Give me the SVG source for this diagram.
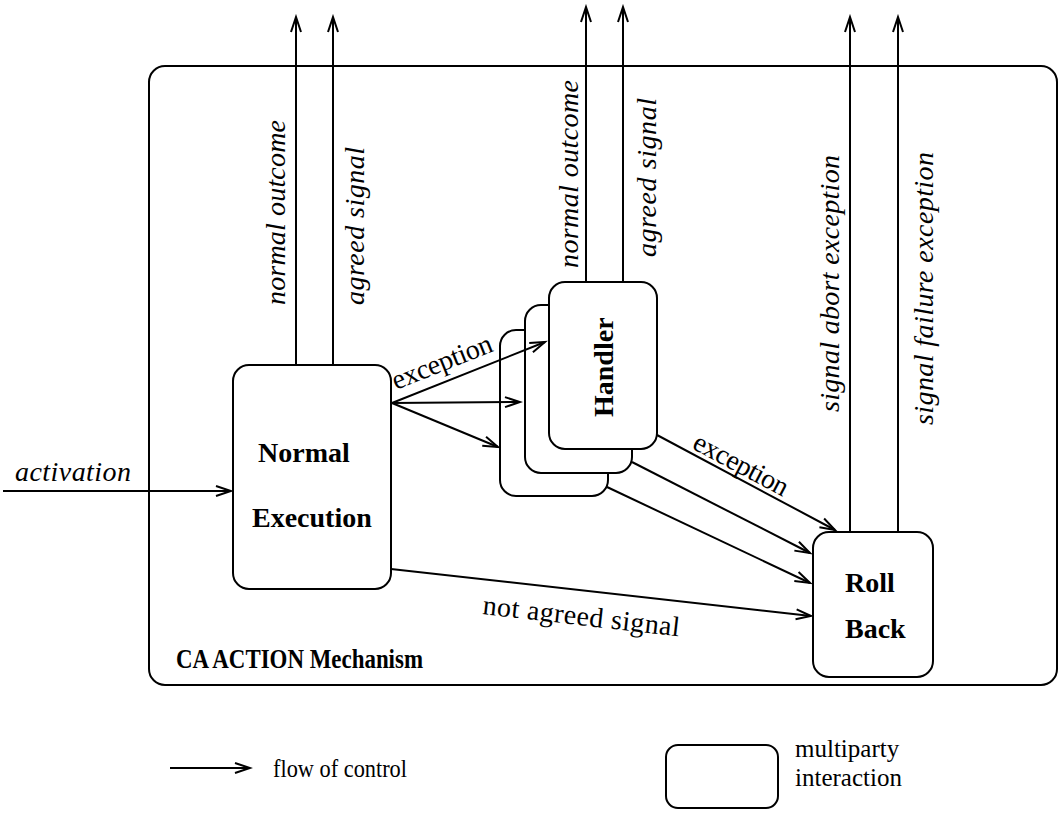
<svg xmlns="http://www.w3.org/2000/svg" width="1063" height="813" viewBox="0 0 1063 813">
<style>
.box{fill:#fff;stroke:#000;stroke-width:2}
.ln{fill:none;stroke:#000;stroke-width:2}
.it{font-family:"Liberation Serif",serif;font-style:italic;font-size:28px;fill:#000}
.rm{font-family:"Liberation Serif",serif;font-size:28px;fill:#000}
.bd{font-family:"Liberation Serif",serif;font-weight:bold;font-size:28px;fill:#000}
.lg{font-family:"Liberation Serif",serif;font-size:25px;fill:#000}
</style>
<defs>
<marker id="ah" markerUnits="userSpaceOnUse" markerWidth="20" markerHeight="14" viewBox="-16 -7 18 14" refX="0" refY="0" orient="auto">
<path d="M-15,-5 L0,0 L-15,5" fill="none" stroke="#000" stroke-width="2"/>
</marker>
</defs>
<rect width="1063" height="813" fill="#fff"/>
<g id="frame">
<rect x="149" y="66" width="908" height="619" rx="16" class="box"/>
<text x="176" y="668" class="bd" style="font-size:27px" textLength="247" lengthAdjust="spacingAndGlyphs">CA ACTION Mechanism</text>
</g>
<g id="normal-execution">
<rect x="233" y="365" width="158" height="224" rx="16" class="box"/>
<text x="258" y="462" class="bd">Normal</text>
<text x="252" y="527" class="bd">Execution</text>
</g>
<g id="handler">
<rect x="500" y="330" width="108" height="166" rx="16" class="box"/>
<rect x="525" y="305" width="107" height="168" rx="16" class="box"/>
<rect x="549" y="282" width="108" height="167" rx="16" class="box"/>
<text transform="translate(613,417) rotate(-90)" class="bd">Handler</text>
</g>
<g id="roll-back">
<rect x="813" y="532" width="120" height="145" rx="16" class="box"/>
<text x="845" y="592" class="bd">Roll</text>
<text x="845" y="638" class="bd">Back</text>
</g>
<g id="connectors">
<line x1="3" y1="491" x2="231" y2="491" class="ln" marker-end="url(#ah)"/>
<line x1="296" y1="365" x2="296" y2="17" class="ln" marker-end="url(#ah)"/>
<line x1="333" y1="365" x2="333" y2="17" class="ln" marker-end="url(#ah)"/>
<line x1="586" y1="282" x2="586" y2="7" class="ln" marker-end="url(#ah)"/>
<line x1="623" y1="282" x2="623" y2="7" class="ln" marker-end="url(#ah)"/>
<line x1="850" y1="532" x2="850" y2="17" class="ln" marker-end="url(#ah)"/>
<line x1="898" y1="532" x2="898" y2="17" class="ln" marker-end="url(#ah)"/>
<line x1="392" y1="403" x2="545" y2="342" class="ln" marker-end="url(#ah)"/>
<line x1="392" y1="403" x2="520" y2="402" class="ln" marker-end="url(#ah)"/>
<line x1="392" y1="403" x2="498" y2="447" class="ln" marker-end="url(#ah)"/>
<line x1="657" y1="435" x2="835" y2="530" class="ln" marker-end="url(#ah)"/>
<line x1="632" y1="462" x2="810" y2="553" class="ln" marker-end="url(#ah)"/>
<line x1="607" y1="487" x2="810" y2="583" class="ln" marker-end="url(#ah)"/>
<line x1="391" y1="569" x2="811" y2="616" class="ln" marker-end="url(#ah)"/>
<text x="15" y="481" class="it" textLength="116">activation</text>
<text transform="translate(285,305) rotate(-90)" class="it" textLength="185">normal outcome</text>
<text transform="translate(364,305) rotate(-90)" class="it" textLength="158">agreed signal</text>
<text transform="translate(578,268) rotate(-90)" class="it" textLength="188">normal outcome</text>
<text transform="translate(656,257) rotate(-90)" class="it" textLength="159">agreed signal</text>
<text transform="translate(839,412) rotate(-90)" class="it" textLength="257">signal abort exception</text>
<text transform="translate(933,425) rotate(-90)" class="it" textLength="273">signal failure exception</text>
<text transform="translate(396,390) rotate(-21.7)" class="rm" textLength="106">exception</text>
<text transform="translate(691,448) rotate(28)" class="rm" textLength="104">exception</text>
<text transform="translate(482,614) rotate(6.5)" class="rm" textLength="198">not agreed signal</text>
</g>
<g id="legend">
<line x1="170" y1="768" x2="250" y2="768" class="ln" marker-end="url(#ah)"/>
<text x="273" y="777" class="lg" style="font-size:26px" textLength="134" lengthAdjust="spacingAndGlyphs">flow of control</text>
<rect x="666" y="745" width="112" height="63" rx="12" class="box"/>
<text x="795" y="757" class="lg">multiparty</text>
<text x="795" y="786" class="lg">interaction</text>
</g>
</svg>
